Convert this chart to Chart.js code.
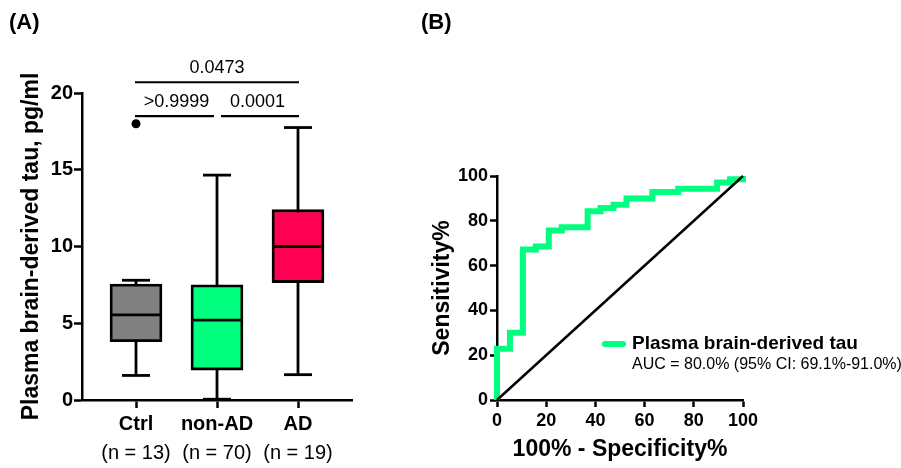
<!DOCTYPE html>
<html><head><meta charset="utf-8">
<script src="https://cdn.jsdelivr.net/npm/chart.js@4.4.1/dist/chart.umd.min.js"></script>
<style>
html,body{margin:0;padding:0;background:#fff;}
#wrap{position:relative;width:901px;height:468px;overflow:hidden;background:#fff;}
#c1{position:absolute;left:0;top:0;}
#c2{position:absolute;left:420px;top:0;}
</style></head><body>
<div id="wrap"><canvas id="c1" width="420" height="468"></canvas><canvas id="c2" width="481" height="468"></canvas></div>
<script>
// ---------- Panel A data ----------
const groups = ['Ctrl', 'non-AD', 'AD'];
const groupN = ['(n = 13)', '(n = 70)', '(n = 19)'];
const boxMin = [1.6, 0.05, 1.65];
const boxQ1 = [3.8, 1.95, 7.65];
const boxMedian = [5.55, 5.2, 10.0];
const boxQ3 = [7.55, 7.5, 12.4];
const boxMax = [7.8, 14.65, 17.75];
const outlierGroup = [1];
const outlierValue = [18.0];
const yTicksA = [0, 5, 10, 15, 20];
const sigFrom = [1, 2, 1];
const sigTo = [2, 3, 3];
const sigText = ['>0.9999', '0.0001', '0.0473'];
const sigLevel = [18.5, 18.5, 20.7];

// ---------- Panel B data ----------
const rocFpr = [0, 0, 5.26, 5.26, 10.53, 10.53, 15.79, 15.79, 21.05, 21.05, 26.32, 26.32, 36.84, 36.84, 42.11, 42.11, 47.37, 47.37, 52.63, 52.63, 63.16, 63.16, 73.68, 73.68, 89.47, 89.47, 94.74, 94.74, 100, 100];
const rocTpr = [0, 22.86, 22.86, 30.0, 30.0, 67.14, 67.14, 68.57, 68.57, 75.71, 75.71, 77.14, 77.14, 84.29, 84.29, 85.71, 85.71, 87.14, 87.14, 90.0, 90.0, 92.86, 92.86, 94.29, 94.29, 97.14, 97.14, 98.57, 98.57, 100];
const refLine = [0, 100];
const xTicksB = [0, 20, 40, 60, 80, 100];
const legendLabel = 'Plasma brain-derived tau';
const legendAUC = 'AUC = 80.0% (95% CI: 69.1%-91.0%)';

const FONT = "'Liberation Sans', Arial, Helvetica, sans-serif";
const BOX_COLORS = ['#808080', '#00FF7F', '#FF0052'];
const ROC_COLOR = '#00FF80';
const BOX_LW = 2.8;

const boxPlugin = {
  id: 'boxWhiskers',
  beforeDatasetsDraw(chart) {
    const {ctx, scales: {x, y}} = chart;
    ctx.save();
    ctx.strokeStyle = '#000';
    ctx.lineWidth = BOX_LW;
    groups.forEach((g, i) => {
      const cx = x.getPixelForValue(i + 1);
      ctx.beginPath();
      ctx.moveTo(cx, y.getPixelForValue(boxMin[i]));
      ctx.lineTo(cx, y.getPixelForValue(boxMax[i]));
      ctx.stroke();
      [boxMin[i], boxMax[i]].forEach(v => {
        const py = y.getPixelForValue(v);
        ctx.beginPath();
        ctx.moveTo(cx - 14, py);
        ctx.lineTo(cx + 14, py);
        ctx.stroke();
      });
    });
    ctx.restore();
  },
  afterDatasetsDraw(chart) {
    const {ctx, scales: {x, y}} = chart;
    ctx.save();
    ctx.strokeStyle = '#000';
    ctx.lineWidth = BOX_LW;
    groups.forEach((g, i) => {
      const cx = x.getPixelForValue(i + 1);
      const py = y.getPixelForValue(boxMedian[i]);
      ctx.beginPath();
      ctx.moveTo(cx - 25, py);
      ctx.lineTo(cx + 25, py);
      ctx.stroke();
    });
    // significance brackets
    ctx.lineWidth = 2.2;
    ctx.fillStyle = '#000';
    ctx.font = '18px ' + FONT;
    ctx.textAlign = 'center';
    ctx.textBaseline = 'middle';
    sigText.forEach((t, k) => {
      let x0 = x.getPixelForValue(sigFrom[k]) - 1;
      let x1 = x.getPixelForValue(sigTo[k]) + 1;
      const sharedStart = sigTo.some((v, j) => j !== k && sigLevel[j] === sigLevel[k] && v === sigFrom[k]);
      const sharedEnd = sigFrom.some((v, j) => j !== k && sigLevel[j] === sigLevel[k] && v === sigTo[k]);
      if (sharedStart) x0 += 5;
      if (sharedEnd) x1 -= 4;
      const py = y.getPixelForValue(sigLevel[k]);
      ctx.beginPath();
      ctx.moveTo(x0, py);
      ctx.lineTo(x1, py);
      ctx.stroke();
      ctx.fillText(t, (x.getPixelForValue(sigFrom[k]) + x.getPixelForValue(sigTo[k])) / 2, py - 14);
    });
    ctx.restore();
  },
  afterDraw(chart) {
    const ctx = chart.ctx;
    ctx.save();
    ctx.fillStyle = '#000';
    ctx.font = 'bold 22px ' + FONT;
    ctx.textAlign = 'left';
    ctx.textBaseline = 'middle';
    ctx.fillText('(A)', 9, 23);
    ctx.restore();
  }
};

const rocPlugin = {
  id: 'rocLegend',
  afterDraw(chart) {
    const ctx = chart.ctx;
    ctx.save();
    ctx.strokeStyle = ROC_COLOR;
    ctx.lineWidth = 6;
    ctx.lineCap = 'round';
    ctx.beginPath();
    ctx.moveTo(185, 344);
    ctx.lineTo(203, 344);
    ctx.stroke();
    ctx.fillStyle = '#000';
    ctx.textAlign = 'left';
    ctx.textBaseline = 'middle';
    ctx.font = 'bold 19px ' + FONT;
    ctx.fillText(legendLabel, 212, 344);
    ctx.font = '16px ' + FONT;
    ctx.fillText(legendAUC, 212, 365);
    ctx.font = 'bold 22px ' + FONT;
    ctx.fillText('(B)', 1, 23);
    ctx.restore();
  }
};

const axisGrid = (len) => ({offset: false, drawOnChartArea: false, drawTicks: true, tickLength: len, tickWidth: 2.5, color: '#000'});
const axisBorder = {display: true, width: 2.5, color: '#000'};

new Chart(document.getElementById('c1'), {
  type: 'bar',
  data: {
    datasets: [
      {type: 'scatter', data: outlierGroup.map((g, i) => ({x: g, y: outlierValue[i]})), pointRadius: 4.5, backgroundColor: '#000', borderWidth: 0, order: 0},
      {type: 'bar', data: groups.map((g, i) => ({x: i + 1, y: [boxQ1[i], boxQ3[i]]})), backgroundColor: BOX_COLORS, borderColor: '#000', borderWidth: BOX_LW, borderSkipped: false, barThickness: 52, order: 1}
    ]
  },
  options: {
    responsive: false, animation: false,
    layout: {padding: {left: 10, top: 93, right: 68, bottom: 0}},
    plugins: {legend: {display: false}, tooltip: {enabled: false}},
    scales: {
      x: {
        type: 'linear', min: 1 / 3, max: 11 / 3, offset: false, position: 'bottom', weight: 0,
        afterBuildTicks: s => { s.ticks = groups.map((g, i) => ({value: i + 1})); },
        ticks: {callback: (v, i) => groups[i], font: {family: FONT, size: 20, weight: 'bold'}, color: '#000', padding: 4, maxRotation: 0, autoSkip: false},
        grid: axisGrid(8), border: axisBorder,
        afterFit: s => { s.height = 36; }
      },
      x2: {
        type: 'linear', min: 1 / 3, max: 11 / 3, offset: false, position: 'bottom', weight: 1,
        afterBuildTicks: s => { s.ticks = groups.map((g, i) => ({value: i + 1})); },
        ticks: {callback: (v, i) => groupN[i], font: {family: FONT, size: 20}, color: '#000', padding: 5, maxRotation: 0, autoSkip: false},
        grid: {display: false, drawTicks: false, offset: false}, border: {display: false},
        afterFit: s => { s.height = 32; }
      },
      y: {
        min: 0, max: 20,
        afterBuildTicks: s => { s.ticks = yTicksA.map(v => ({value: v})); },
        ticks: {font: {family: FONT, size: 20, weight: 'bold'}, color: '#000', padding: 1},
        grid: axisGrid(8), border: axisBorder,
        title: {display: true, text: 'Plasma brain-derived tau, pg/ml', color: '#000', font: {family: FONT, size: 23, weight: 'bold'}, padding: {top: 8, bottom: 0}},
        afterFit: s => { s.width = 72; }
      }
    }
  },
  plugins: [boxPlugin]
});

new Chart(document.getElementById('c2'), {
  type: 'line',
  data: {
    datasets: [
      {data: refLine.map(v => ({x: v, y: v})), borderColor: '#000', borderWidth: 2.5, pointRadius: 0, clip: false},
      {data: rocFpr.map((v, i) => ({x: v, y: rocTpr[i]})), borderColor: ROC_COLOR, borderWidth: 6, pointRadius: 0, borderJoinStyle: 'miter', borderCapStyle: 'butt', tension: 0, clip: false}
    ]
  },
  options: {
    responsive: false, animation: false,
    layout: {padding: {left: 5, top: 176, right: 158, bottom: 0}},
    plugins: {legend: {display: false}, tooltip: {enabled: false}},
    scales: {
      x: {
        type: 'linear', min: 0, max: 100,
        afterBuildTicks: s => { s.ticks = xTicksB.map(v => ({value: v})); },
        ticks: {font: {family: FONT, size: 18, weight: 'bold'}, color: '#000', padding: 3, maxRotation: 0},
        grid: axisGrid(7), border: axisBorder,
        title: {display: true, text: '100% - Specificity%', color: '#000', font: {family: FONT, size: 23, weight: 'bold'}, padding: {top: 0, bottom: 5}},
        afterFit: s => { s.height = 68; }
      },
      y: {
        type: 'linear', min: 0, max: 100,
        afterBuildTicks: s => { s.ticks = xTicksB.map(v => ({value: v})); },
        ticks: {font: {family: FONT, size: 18, weight: 'bold'}, color: '#000', padding: 2},
        grid: axisGrid(7), border: axisBorder,
        title: {display: true, text: 'Sensitivity%', color: '#000', font: {family: FONT, size: 23, weight: 'bold'}, padding: {top: 4, bottom: 0}},
        afterFit: s => { s.width = 72; }
      }
    }
  },
  plugins: [rocPlugin]
});
</script>
</body></html>
